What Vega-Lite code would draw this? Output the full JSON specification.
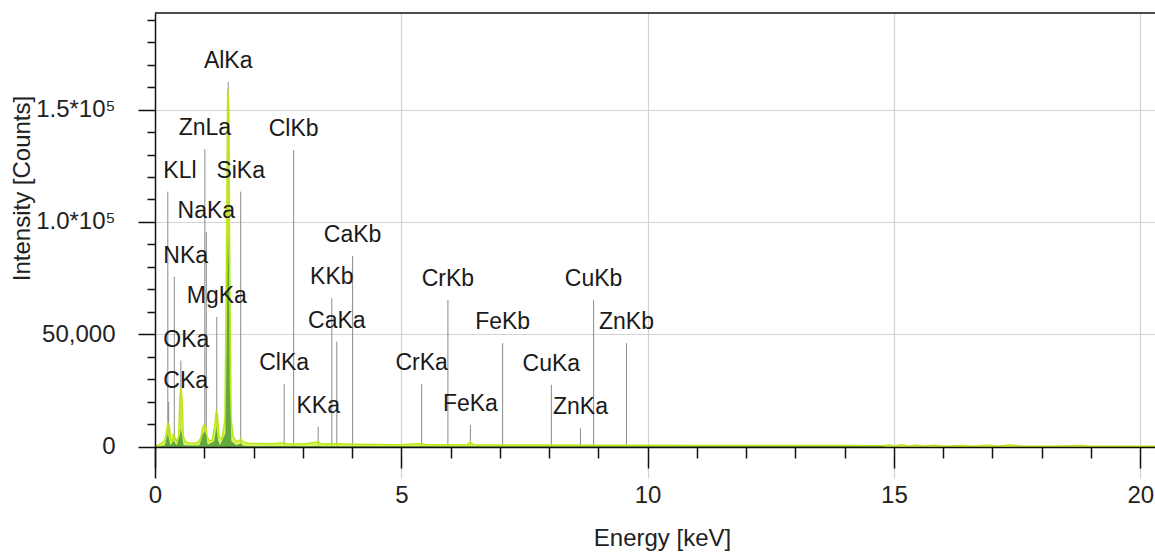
{
  "$schema": "https://vega.github.io/schema/vega-lite/v6.json",
  "width": 1000,
  "height": 465,
  "autosize": {"type": "none"},
  "padding": {"left": 155, "top": 13, "right": 0, "bottom": 74},
  "background": "white",
  "config": {"view": {"stroke": null}, "font": "Liberation Sans"},
  "datasets": {
    "lime": [
      {"energy": 0, "counts": 0}, {"energy": 0.06, "counts": 800}, {"energy": 0.14, "counts": 1800}, {"energy": 0.2, "counts": 3000},
      {"energy": 0.23, "counts": 6500}, {"energy": 0.26, "counts": 10500}, {"energy": 0.29, "counts": 9500}, {"energy": 0.32, "counts": 3500},
      {"energy": 0.35, "counts": 2500}, {"energy": 0.37, "counts": 5500}, {"energy": 0.4, "counts": 4500}, {"energy": 0.44, "counts": 2500},
      {"energy": 0.48, "counts": 4500}, {"energy": 0.505, "counts": 22000}, {"energy": 0.525, "counts": 26500}, {"energy": 0.55, "counts": 21000},
      {"energy": 0.575, "counts": 4500}, {"energy": 0.62, "counts": 2200}, {"energy": 0.7, "counts": 1800}, {"energy": 0.8, "counts": 1600},
      {"energy": 0.88, "counts": 2200}, {"energy": 0.93, "counts": 4000}, {"energy": 0.97, "counts": 8500}, {"energy": 1.0, "counts": 9800},
      {"energy": 1.03, "counts": 9000}, {"energy": 1.06, "counts": 4500}, {"energy": 1.1, "counts": 2800}, {"energy": 1.16, "counts": 3000},
      {"energy": 1.21, "counts": 9000}, {"energy": 1.245, "counts": 16400}, {"energy": 1.27, "counts": 14000}, {"energy": 1.3, "counts": 4500},
      {"energy": 1.36, "counts": 3500}, {"energy": 1.42, "counts": 12000}, {"energy": 1.455, "counts": 95000}, {"energy": 1.475, "counts": 159000},
      {"energy": 1.5, "counts": 150000}, {"energy": 1.52, "counts": 70000}, {"energy": 1.545, "counts": 12000}, {"energy": 1.59, "counts": 4500},
      {"energy": 1.65, "counts": 2500}, {"energy": 1.71, "counts": 2800}, {"energy": 1.745, "counts": 3600}, {"energy": 1.78, "counts": 2200},
      {"energy": 1.9, "counts": 1600}, {"energy": 2.1, "counts": 1500}, {"energy": 2.4, "counts": 1400}, {"energy": 2.6, "counts": 1900},
      {"energy": 2.66, "counts": 1300}, {"energy": 2.9, "counts": 1300}, {"energy": 3.1, "counts": 1500}, {"energy": 3.31, "counts": 2300},
      {"energy": 3.38, "counts": 1300}, {"energy": 3.7, "counts": 1400}, {"energy": 4.0, "counts": 1200}, {"energy": 4.5, "counts": 1100},
      {"energy": 5.0, "counts": 1000}, {"energy": 5.41, "counts": 1500}, {"energy": 5.5, "counts": 1000}, {"energy": 6.0, "counts": 950},
      {"energy": 6.35, "counts": 1100}, {"energy": 6.4, "counts": 2300}, {"energy": 6.46, "counts": 1000}, {"energy": 7.0, "counts": 900},
      {"energy": 8.0, "counts": 850}, {"energy": 9.0, "counts": 800}, {"energy": 10, "counts": 750}, {"energy": 11, "counts": 700},
      {"energy": 12, "counts": 700}, {"energy": 13, "counts": 650}, {"energy": 14, "counts": 600}, {"energy": 14.8, "counts": 550},
      {"energy": 14.9, "counts": 900}, {"energy": 15.0, "counts": 300}, {"energy": 15.15, "counts": 1000}, {"energy": 15.3, "counts": 300},
      {"energy": 15.45, "counts": 900}, {"energy": 15.6, "counts": 300}, {"energy": 15.8, "counts": 800}, {"energy": 16.0, "counts": 300},
      {"energy": 16.4, "counts": 700}, {"energy": 16.6, "counts": 300}, {"energy": 16.95, "counts": 800}, {"energy": 17.1, "counts": 300},
      {"energy": 17.35, "counts": 900}, {"energy": 17.6, "counts": 300}, {"energy": 18.2, "counts": 300}, {"energy": 18.8, "counts": 600},
      {"energy": 19.0, "counts": 300}, {"energy": 20.3, "counts": 300}
    ],
    "dark": [
      {"energy": 0, "counts": 0}, {"energy": 0.2, "counts": 800}, {"energy": 0.25, "counts": 5500}, {"energy": 0.28, "counts": 4000},
      {"energy": 0.31, "counts": 800}, {"energy": 0.37, "counts": 2500}, {"energy": 0.4, "counts": 2000}, {"energy": 0.44, "counts": 800},
      {"energy": 0.5, "counts": 5000}, {"energy": 0.525, "counts": 8000}, {"energy": 0.55, "counts": 5000}, {"energy": 0.58, "counts": 800},
      {"energy": 0.9, "counts": 600}, {"energy": 0.97, "counts": 5500}, {"energy": 1.0, "counts": 7000}, {"energy": 1.03, "counts": 6000},
      {"energy": 1.07, "counts": 1000}, {"energy": 1.2, "counts": 2500}, {"energy": 1.245, "counts": 9000}, {"energy": 1.28, "counts": 3000},
      {"energy": 1.32, "counts": 800}, {"energy": 1.43, "counts": 6000}, {"energy": 1.46, "counts": 55000}, {"energy": 1.48, "counts": 95000},
      {"energy": 1.5, "counts": 80000}, {"energy": 1.52, "counts": 25000}, {"energy": 1.55, "counts": 2500}, {"energy": 1.65, "counts": 800},
      {"energy": 1.74, "counts": 1500}, {"energy": 1.8, "counts": 500}, {"energy": 2.0, "counts": 400}, {"energy": 14.8, "counts": 300}
    ],
    "lines": [
      {"name": "AlKa", "energy": 1.486, "top": 162200},
      {"name": "ZnLa", "energy": 1.012, "top": 132400},
      {"name": "ClKb", "energy": 2.815, "top": 132000},
      {"name": "KLl", "energy": 0.26, "top": 113500},
      {"name": "SiKa", "energy": 1.74, "top": 113500},
      {"name": "NaKa", "energy": 1.041, "top": 95600},
      {"name": "CaKb", "energy": 4.012, "top": 84900},
      {"name": "NKa", "energy": 0.392, "top": 75600},
      {"name": "KKb", "energy": 3.589, "top": 66100},
      {"name": "CrKb", "energy": 5.946, "top": 65300},
      {"name": "CuKb", "energy": 8.904, "top": 65300},
      {"name": "MgKa", "energy": 1.254, "top": 57800},
      {"name": "CaKa", "energy": 3.691, "top": 46800},
      {"name": "FeKb", "energy": 7.057, "top": 46100},
      {"name": "ZnKb", "energy": 9.571, "top": 46100},
      {"name": "OKa", "energy": 0.525, "top": 38400},
      {"name": "ClKa", "energy": 2.622, "top": 28000},
      {"name": "CrKa", "energy": 5.414, "top": 27900},
      {"name": "CuKa", "energy": 8.046, "top": 27600},
      {"name": "CKa", "energy": 0.277, "top": 20000},
      {"name": "KKa", "energy": 3.313, "top": 9000},
      {"name": "FeKa", "energy": 6.403, "top": 9800},
      {"name": "ZnKa", "energy": 8.637, "top": 8300}
    ]
  },
  "layer": [
    {
      "data": {"name": "lines"},
      "mark": {"type": "rule", "color": "#8a8a8a", "strokeWidth": 1},
      "encoding": {
        "x": {"field": "energy", "type": "quantitative", "scale": {"domain": [0, 20.3], "nice": false, "zero": false},
          "axis": {"orient": "bottom", "values": [5, 10, 15, 20], "grid": true, "gridColor": "#d2d2d2", "gridWidth": 1.2, "domain": false, "ticks": false, "labels": false, "title": null}},
        "y": {"field": "top", "type": "quantitative", "scale": {"domain": [-13800, 192900], "nice": false, "zero": false},
          "axis": {"orient": "left", "values": [50000, 100000, 150000], "grid": true, "gridColor": "#d2d2d2", "gridWidth": 1.2, "domain": false, "ticks": false, "labels": false, "title": null}},
        "y2": {"datum": 0}
      }
    },
    {
      "data": {"name": "lime"},
      "mark": {"type": "area", "color": "#c8f01e", "line": {"color": "#bde614", "strokeWidth": 1.5}},
      "encoding": {
        "x": {"field": "energy", "type": "quantitative",
          "axis": {"orient": "bottom", "offset": -31, "values": [1, 2, 3, 4, 6, 7, 8, 9, 11, 12, 13, 14, 16, 17, 18, 19], "tickSize": 11, "tickWidth": 1.5, "tickColor": "#111", "labels": false, "domain": false, "grid": false, "title": null, "zindex": 1}},
        "y": {"field": "counts", "type": "quantitative",
          "axis": {"orient": "left", "values": [10000, 20000, 30000, 40000, 60000, 70000, 80000, 90000, 110000, 120000, 130000, 140000, 160000, 170000, 180000, 190000], "tickSize": 8, "tickWidth": 1.5, "tickColor": "#111", "labels": false, "domain": false, "grid": false, "title": null, "zindex": 1}},
        "y2": {"datum": 0}
      }
    },
    {
      "data": {"name": "dark"},
      "mark": {"type": "area", "color": "#4d9c3a", "opacity": 0.85},
      "encoding": {
        "x": {"field": "energy", "type": "quantitative",
          "axis": {"orient": "bottom", "offset": -31, "values": [0, 5, 10, 15, 20], "tickSize": 21, "tickWidth": 1.5, "tickColor": "#111", "domainColor": "#111", "domainWidth": 1.5,
            "labelFontSize": 24, "labelColor": "#222", "labelPadding": 15, "labelFlush": false, "labelOverlap": false, "grid": false,
            "title": "Energy [keV]", "titleFontSize": 24, "titleFontWeight": "normal", "titleColor": "#222", "titlePadding": 19, "titleX": 507, "zindex": 1}},
        "y": {"field": "counts", "type": "quantitative",
          "axis": {"orient": "left", "values": [0, 50000, 100000, 150000], "tickSize": 17, "tickWidth": 1.5, "tickColor": "#111", "domainColor": "#111", "domainWidth": 1.5,
            "labelFontSize": 24, "labelColor": "#222", "labelPadding": 23, "labelFlush": false, "labelOverlap": false, "grid": false,
            "labelExpr": "datum.value == 0 ? '0' : datum.value == 50000 ? '50,000' : datum.value == 100000 ? '1.0*10⁵' : '1.5*10⁵'",
            "title": "Intensity [Counts]", "titleFontSize": 24, "titleFontWeight": "normal", "titleColor": "#222", "titleX": -133, "titleY": 175, "titleBaseline": "middle", "zindex": 1}},
        "y2": {"datum": 0}
      }
    },
    {
      "data": {"values": [{"frame": 192900}]},
      "mark": {"type": "rule", "color": "#111", "strokeWidth": 1.5},
      "encoding": {"y": {"field": "frame", "type": "quantitative", "axis": null}}
    },
    {
      "data": {"name": "lines"},
      "transform": [{"filter": "indexof(['KLl','NKa','OKa','CKa'], datum.name) < 0"}],
      "mark": {"type": "text", "fontSize": 23, "dy": -14, "baseline": "alphabetic", "align": "center", "color": "#1a1a1a"},
      "encoding": {
        "x": {"field": "energy", "type": "quantitative", "axis": null},
        "y": {"field": "top", "type": "quantitative", "axis": null},
        "text": {"field": "name"}
      }
    },
    {
      "data": {"name": "lines"},
      "transform": [{"filter": "indexof(['KLl','NKa','OKa','CKa'], datum.name) >= 0"}],
      "mark": {"type": "text", "fontSize": 23, "dy": -14, "baseline": "alphabetic", "align": "left", "color": "#1a1a1a"},
      "encoding": {
        "x": {"datum": 0.17, "type": "quantitative", "axis": null},
        "y": {"field": "top", "type": "quantitative", "axis": null},
        "text": {"field": "name"}
      }
    }
  ],
  "resolve": {"axis": {"x": "independent", "y": "independent"}}
}
